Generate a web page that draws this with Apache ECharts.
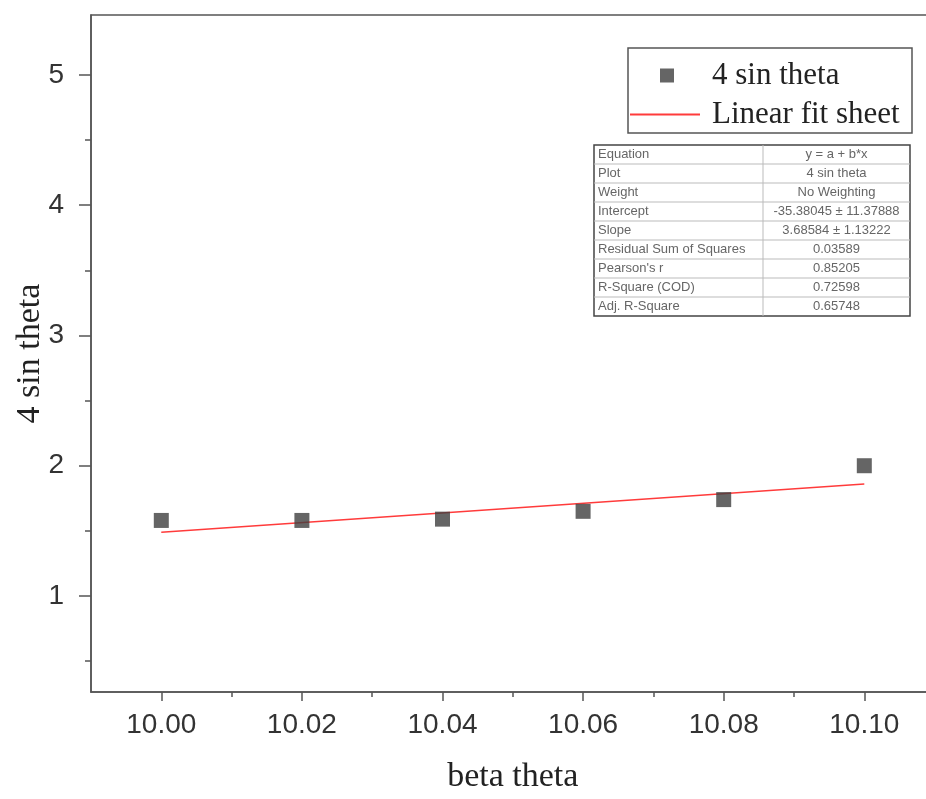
<!DOCTYPE html>
<html><head><meta charset="utf-8">
<script src="https://cdn.jsdelivr.net/npm/echarts@6/dist/echarts.min.js"></script>
<style>html,body{margin:0;padding:0;background:#fff;overflow:hidden}#c{width:940px;height:799px}</style>
</head><body><div id="c"></div>
<script>
const xValues = [10.00, 10.02, 10.04, 10.06, 10.08, 10.10];
const yValues = [1.58, 1.58, 1.59, 1.65, 1.74, 2.00];
const fitX = [10.00, 10.10];
const fitY = [1.49, 1.86];
const xTickLabels = [10.00, 10.02, 10.04, 10.06, 10.08, 10.10];
const xMinorTicks = [10.01, 10.03, 10.05, 10.07, 10.09];
const yTickLabels = [1, 2, 3, 4, 5];
const yMinorTicks = [0.5, 1.5, 2.5, 3.5, 4.5];
const tableLabels = ["Equation","Plot","Weight","Intercept","Slope","Residual Sum of Squares","Pearson's r","R-Square (COD)","Adj. R-Square"];
const tableValues = ["y = a + b*x","4 sin theta","No Weighting","-35.38045 \u00b1 11.37888","3.68584 \u00b1 1.13222","0.03589","0.85205","0.72598","0.65748"];

const chart = echarts.init(document.getElementById('c'));
const axisColor = '#555';
const serif = '"Liberation Serif", "DejaVu Serif", serif';
const sans = '"Liberation Sans", Arial, sans-serif';

const tX = 594, tY = 145, tW = 316, rowH = 19, colX = 763;
const tableEls = [];
tableEls.push({type:'rect', shape:{x:tX, y:tY, width:tW, height:rowH*tableLabels.length}, style:{fill:'#fff', stroke:'#444', lineWidth:1.5}, z:10});
for (let i = 1; i < tableLabels.length; i++) {
  tableEls.push({type:'line', shape:{x1:tX, y1:tY+i*rowH, x2:tX+tW, y2:tY+i*rowH}, style:{stroke:'#bbb', lineWidth:1}, z:11});
}
tableEls.push({type:'line', shape:{x1:colX, y1:tY, x2:colX, y2:tY+rowH*tableLabels.length}, style:{stroke:'#bbb', lineWidth:1}, z:11});
tableLabels.forEach((l, i) => {
  tableEls.push({type:'text', x:tX+4, y:tY+i*rowH+rowH/2, style:{text:l, fill:'#666', font:'13px ' + sans, verticalAlign:'middle', align:'left'}, z:12});
  tableEls.push({type:'text', x:(colX+tX+tW)/2, y:tY+i*rowH+rowH/2, style:{text:tableValues[i], fill:'#666', font:'13px ' + sans, verticalAlign:'middle', align:'center'}, z:12});
});

const xMin = 9.99, xMax = 10.11, yMin = 0.263, yMax = 5.46;

chart.setOption({
  animation: false,
  grid: {left: 91, top: 15, bottom: 107, right: 5.4, show: true, borderColor: axisColor, borderWidth: 1.5,
    containLabel: false, outerBoundsMode: 'none'},
  xAxis: [{
    type: 'value', min: xMin, max: xMax,
    name: 'beta theta', nameLocation: 'middle', nameGap: 68,
    nameTextStyle: {fontFamily: serif, fontSize: 34, color: '#222'},
    axisLine: {lineStyle: {color: axisColor, width: 1.5}},
    axisTick: {show: true, length: 9, customValues: xTickLabels, lineStyle: {color: axisColor, width: 1.5}},
    splitLine: {show: false},
    axisLabel: {
      customValues: xTickLabels,
      fontFamily: sans, fontSize: 28, color: '#333', margin: 19,
      formatter: v => v.toFixed(2)
    }
  }, {
    type: 'value', min: xMin, max: xMax, position: 'bottom',
    axisLine: {show: false}, splitLine: {show: false},
    axisLabel: {show: false, customValues: xMinorTicks},
    axisTick: {show: true, length: 5, customValues: xMinorTicks, lineStyle: {color: axisColor, width: 1.5}}
  }],
  yAxis: [{
    type: 'value', min: yMin, max: yMax,
    name: '4 sin theta', nameLocation: 'middle', nameGap: 44, nameMoveOverlap: false,
    nameTextStyle: {fontFamily: serif, fontSize: 34, color: '#222'},
    axisLine: {lineStyle: {color: axisColor, width: 1.5}},
    axisTick: {show: true, length: 12, customValues: yTickLabels, lineStyle: {color: axisColor, width: 1.5}},
    splitLine: {show: false},
    axisLabel: {
      customValues: yTickLabels,
      fontFamily: sans, fontSize: 28, color: '#333', margin: 27,
      formatter: v => String(v)
    }
  }, {
    type: 'value', min: yMin, max: yMax, position: 'left',
    axisLine: {show: false}, splitLine: {show: false},
    axisLabel: {show: false, customValues: yMinorTicks},
    axisTick: {show: true, length: 6, customValues: yMinorTicks, lineStyle: {color: axisColor, width: 1.5}}
  }],
  legend: [
    {data: ['4 sin theta'], left: 655, top: 55, orient: 'vertical', itemWidth: 14, itemHeight: 14,
      textStyle: {fontFamily: serif, fontSize: 31, color: '#222', padding: [0,0,0,33]}, selectedMode: false},
    {data: [{name: 'Linear fit sheet', icon: 'rect'}], left: 625, top: 94, orient: 'vertical', itemWidth: 70, itemHeight: 2,
      textStyle: {fontFamily: serif, fontSize: 31, color: '#222', padding: [0,0,0,7]}, selectedMode: false}
  ],
  graphic: [
    {type: 'rect', shape: {x: 628, y: 48, width: 284, height: 85}, style: {fill: 'none', stroke: '#555', lineWidth: 1.5}, z: 5},
    ...tableEls
  ],
  series: [
    {name: '4 sin theta', type: 'scatter', symbol: 'rect', symbolSize: 15,
      itemStyle: {color: '#3f3f3f'},
      data: xValues.map((x, i) => [x, yValues[i]]), z: 3},
    {name: 'Linear fit sheet', type: 'line', symbol: 'none',
      lineStyle: {color: '#ff3b3b', width: 1.5}, itemStyle: {color: '#ff3b3b'},
      data: fitX.map((x, i) => [x, fitY[i]]), z: 2}
  ]
});
</script>
</body></html>
